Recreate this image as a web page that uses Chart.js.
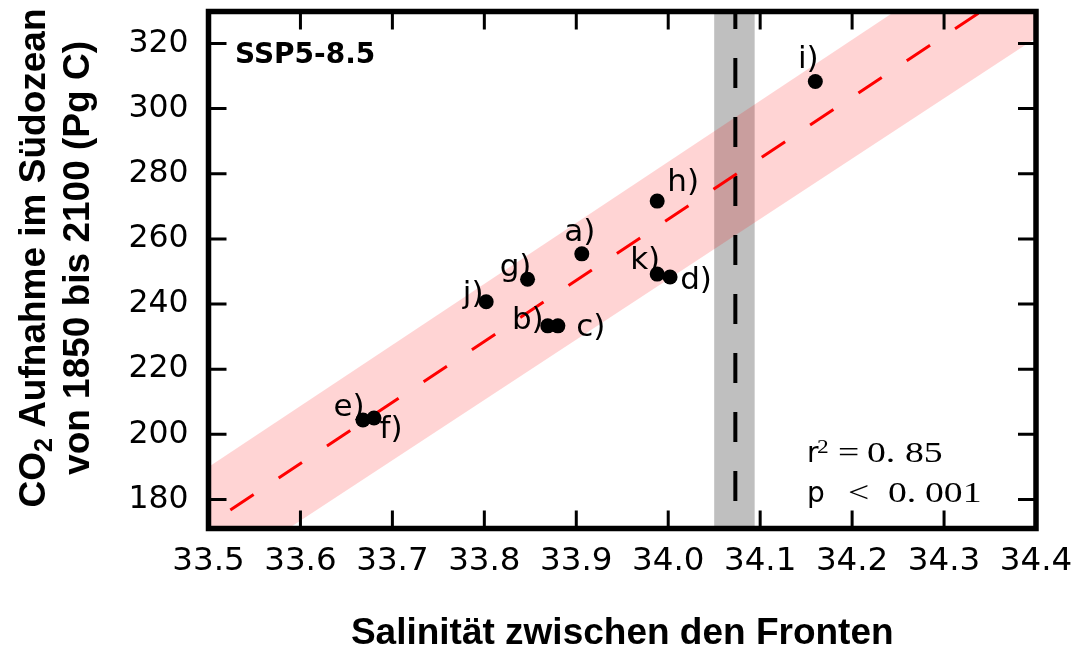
<!DOCTYPE html>
<html>
<head>
<meta charset="utf-8">
<script src="https://cdn.jsdelivr.net/npm/chart.js@4.4.0/dist/chart.umd.min.js"></script>
<style>
  html, body { margin: 0; padding: 0; background: #fff; }
  canvas { display: block; }
</style>
</head>
<body>
<canvas id="myChart" width="1076" height="648"></canvas>
<script>
// model runs: salinity between the fronts vs. Southern Ocean CO2 uptake 1850-2100
const modelLabels = ['a)', 'b)', 'c)', 'd)', 'e)', 'f)', 'g)', 'h)', 'i)', 'j)', 'k)'];
const salinity  = [33.906, 33.869, 33.880, 34.002, 33.668, 33.680, 33.847, 33.988, 34.160, 33.802, 33.988];
const co2Uptake = [255.4, 233.3, 233.3, 248.3, 204.4, 205.0, 247.6, 271.6, 308.3, 240.7, 249.2];

// regression line and its shaded band, at both ends of the x range
const fitX = [33.5, 34.4];
const fitY = [172.3, 341.0];
const bandUpper = [190.0, 358.6];
const bandLower = [155.0, 321.7];

// observed salinity: range and mean
const obsRange = [34.050, 34.094];
const obsMean = 34.073;

const xTicks = [33.5, 33.6, 33.7, 33.8, 33.9, 34.0, 34.1, 34.2, 34.3, 34.4];
const yTicks = [180, 200, 220, 240, 260, 280, 300, 320];
const yMin = 171.1, yMax = 329.8;

const xTitle = 'Salinität zwischen den Fronten';
const yTitle1 = ['CO', '2', ' Aufnahme im Südozean'];
const yTitle2 = 'von 1850 bis 2100 (Pg C)';
const scenario = 'SSP5-8.5';

// where each model's letter sits relative to its dot (px)
const labelOffsets = [[-2, -13], [-20, 3], [33, 10], [26, 12], [-14, -4], [17, 20],
                      [-12, -3], [26, -10], [-7, -14], [-13, 1], [-12, -5]];

const pts = salinity.map((s, i) => ({x: s, y: co2Uptake[i]}));
const line = (xs, ys) => xs.map((v, i) => ({x: v, y: ys[i]}));

// keep the plot box where it is, no extra room for the end labels
function noPad(s) {
  s.paddingTop = 0; s.paddingBottom = 0; s.paddingLeft = 0; s.paddingRight = 0;
}

const obsBand = {
  id: 'obsBand',
  beforeDatasetsDraw(chart) {
    const {ctx, chartArea: a, scales: {x}} = chart;
    const x0 = x.getPixelForValue(obsRange[0]);
    const x1 = x.getPixelForValue(obsRange[1]);
    ctx.save();
    ctx.fillStyle = '#bfbfbf';
    ctx.fillRect(x0, a.top, x1 - x0, a.bottom - a.top);
    ctx.restore();
  }
};

const pointLabels = {
  id: 'pointLabels',
  afterDatasetsDraw(chart) {
    const ctx = chart.ctx;
    const meta = chart.getDatasetMeta(0);
    ctx.save();
    ctx.fillStyle = '#000';
    ctx.font = '31px "DejaVu Sans"';
    ctx.textAlign = 'center';
    ctx.textBaseline = 'alphabetic';
    meta.data.forEach((p, i) => {
      ctx.fillText(modelLabels[i], p.x + labelOffsets[i][0], p.y + labelOffsets[i][1]);
    });
    ctx.restore();
  }
};

const frame = {
  id: 'frame',
  afterDatasetsDraw(chart) {
    const {ctx, chartArea: a, scales: {x, y}} = chart;
    const tl = 18;
    ctx.save();
    ctx.strokeStyle = '#000';
    ctx.lineWidth = 3;
    ctx.beginPath();
    xTicks.forEach(v => {
      const px = x.getPixelForValue(v);
      ctx.moveTo(px, a.bottom); ctx.lineTo(px, a.bottom - tl);
      ctx.moveTo(px, a.top); ctx.lineTo(px, a.top + tl);
    });
    yTicks.forEach(v => {
      const py = y.getPixelForValue(v);
      ctx.moveTo(a.left, py); ctx.lineTo(a.left + tl, py);
      ctx.moveTo(a.right, py); ctx.lineTo(a.right - tl, py);
    });
    ctx.stroke();
    ctx.lineWidth = 5.5;
    ctx.strokeRect(a.left, a.top, a.right - a.left, a.bottom - a.top);
    ctx.restore();
  }
};

// serif text a little wider than the font, like the math type of the stats
function wideText(ctx, str, x, y, sx) {
  ctx.save();
  ctx.translate(x, y);
  ctx.scale(sx, 1);
  ctx.fillText(str, 0, 0);
  ctx.restore();
}

const texts = {
  id: 'texts',
  afterDraw(chart) {
    const {ctx, chartArea: a} = chart;
    ctx.save();
    ctx.fillStyle = '#000';
    ctx.textBaseline = 'alphabetic';

    // x axis title
    ctx.font = 'bold 37px "Liberation Sans"';
    ctx.textAlign = 'center';
    ctx.fillText(xTitle, (a.left + a.right) / 2, 644);

    // y axis title, two rotated lines, first one with a subscript
    const big = 'bold 37px "Liberation Sans"', small = 'bold 25px "Liberation Sans"';
    ctx.textAlign = 'left';
    ctx.font = big;
    const w0 = ctx.measureText(yTitle1[0]).width;
    const w2 = ctx.measureText(yTitle1[2]).width;
    ctx.font = small;
    const w1 = ctx.measureText(yTitle1[1]).width;
    const total = w0 + w1 + w2;
    ctx.save();
    ctx.translate(45, 258);
    ctx.rotate(-Math.PI / 2);
    let cx = -total / 2;
    ctx.font = big;   ctx.fillText(yTitle1[0], cx, 0); cx += w0;
    ctx.font = small; ctx.fillText(yTitle1[1], cx, 7); cx += w1;
    ctx.font = big;   ctx.fillText(yTitle1[2], cx, 0);
    ctx.restore();

    ctx.save();
    ctx.translate(89, 258);
    ctx.rotate(-Math.PI / 2);
    ctx.font = big;
    ctx.textAlign = 'center';
    ctx.fillText(yTitle2, 0, 0);
    ctx.restore();

    // scenario tag
    ctx.textAlign = 'left';
    ctx.font = 'bold 28px "DejaVu Sans"';
    ctx.fillText(scenario, 235, 63);

    // fit statistics
    ctx.font = '28px "DejaVu Sans"';
    ctx.fillText('r', 807, 462);
    ctx.fillText('p', 807, 502);
    ctx.font = '18px "Liberation Serif"';
    wideText(ctx, '2', 817, 453, 1.3);
    ctx.font = '29px "Liberation Serif"';
    wideText(ctx, '=', 838, 462, 1.3);
    wideText(ctx, '0.', 867, 462, 1.3);
    wideText(ctx, '85', 905, 462, 1.3);
    wideText(ctx, '<', 848, 502, 1.3);
    wideText(ctx, '0.', 888, 502, 1.3);
    wideText(ctx, '001', 925, 502, 1.3);
    ctx.restore();
  }
};

const config = {
  type: 'line',
  data: {
    datasets: [
      {
        label: 'models',
        data: pts,
        showLine: false,
        pointRadius: 7.5,
        pointBackgroundColor: '#000',
        pointBorderWidth: 0,
        order: 0
      },
      {
        label: 'fit',
        data: line(fitX, fitY),
        borderColor: '#ff0000',
        borderWidth: 3,
        borderDash: [28, 30],
        borderDashOffset: 31.8,
        pointRadius: 0,
        fill: false,
        order: 1
      },
      {
        label: 'obs mean',
        data: [{x: obsMean, y: yMax}, {x: obsMean, y: yMin}],
        borderColor: '#000',
        borderWidth: 4,
        borderDash: [30, 29],
        borderDashOffset: 12.5,
        pointRadius: 0,
        fill: false,
        order: 2
      },
      {
        label: 'band upper',
        data: line(fitX, bandUpper),
        borderWidth: 0,
        pointRadius: 0,
        backgroundColor: 'rgba(255, 0, 0, 0.17)',
        fill: '+1',
        order: 3
      },
      {
        label: 'band lower',
        data: line(fitX, bandLower),
        borderWidth: 0,
        pointRadius: 0,
        fill: false,
        order: 4
      }
    ]
  },
  options: {
    responsive: false,
    devicePixelRatio: 1,
    animation: false,
    layout: { padding: { top: 11.5, right: 40, left: 0, bottom: 0 } },
    plugins: {
      legend: { display: false },
      tooltip: { enabled: false }
    },
    scales: {
      x: {
        type: 'linear',
        min: 33.5,
        max: 34.4,
        afterBuildTicks: s => { s.ticks = xTicks.map(v => ({value: v})); },
        afterFit: s => { s.height = 648 - 528.5; noPad(s); },
        grid: { display: false, drawTicks: false },
        border: { display: false },
        ticks: {
          autoSkip: false,
          maxRotation: 0,
          padding: 14,
          color: '#000',
          font: { family: 'DejaVu Sans', size: 32.5 },
          callback: v => Number(v).toFixed(1)
        }
      },
      y: {
        type: 'linear',
        min: yMin,
        max: yMax,
        afterBuildTicks: s => { s.ticks = yTicks.map(v => ({value: v})); },
        afterFit: s => { s.width = 208.5; noPad(s); },
        grid: { display: false, drawTicks: false },
        border: { display: false },
        ticks: {
          padding: 20,
          color: '#000',
          font: { family: 'DejaVu Sans', size: 31.5 },
          callback: v => String(v)
        }
      }
    }
  },
  plugins: [obsBand, pointLabels, frame, texts]
};

const myChart = new Chart(document.getElementById('myChart'), config);
</script>
</body>
</html>
